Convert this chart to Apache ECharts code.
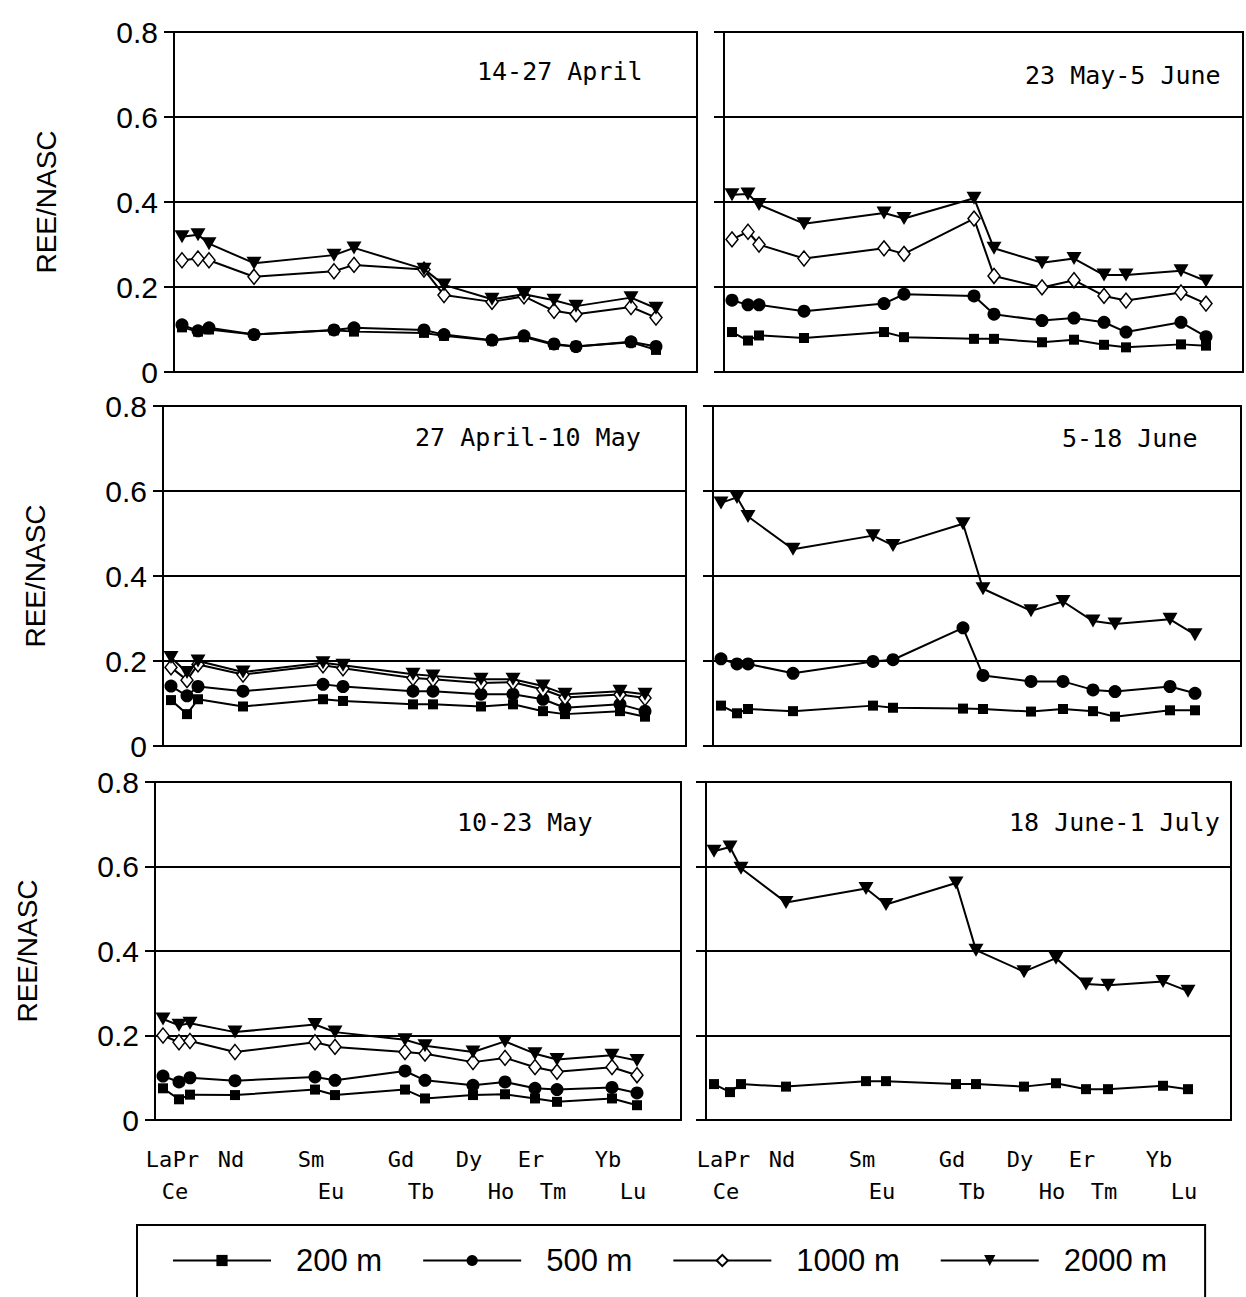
<!DOCTYPE html>
<html>
<head>
<meta charset="utf-8">
<script src="https://cdn.jsdelivr.net/npm/echarts@6/dist/echarts.min.js"></script>
<style>
  html, body { margin: 0; padding: 0; background: #fff; }
  #chart { width: 1246px; height: 1297px; }
</style>
</head>
<body>
<div id="chart"></div>
<script>
// ---------- data ----------
const elements = ['La','Ce','Pr','Nd','Sm','Eu','Gd','Tb','Dy','Ho','Er','Tm','Yb','Lu'];
// x-position of each element along the REE axis (axis units)
const elementPos = [8, 24, 35, 80, 160, 180, 250, 270, 318, 350, 380, 402, 457, 482];
const labelRowTop = ['La','Pr','Nd','Sm','Gd','Dy','Er','Yb'];
const labelRowBottom = ['Ce','Eu','Tb','Ho','Tm','Lu'];
const yTicks = [0, 0.2, 0.4, 0.6, 0.8];
const depths = ['200 m', '500 m', '1000 m', '2000 m'];
const panelTitles = ['14-27 April', '23 May-5 June', '27 April-10 May', '5-18 June', '10-23 May', '18 June-1 July'];
const yName = 'REE/NASC';

// 14-27 April
const apr14_200 = [0.105, 0.095, 0.100, 0.088, 0.098, 0.095, 0.092, 0.085, 0.074, 0.082, 0.064, 0.060, 0.070, 0.052];
const apr14_500 = [0.111, 0.097, 0.104, 0.088, 0.099, 0.104, 0.099, 0.088, 0.075, 0.085, 0.066, 0.060, 0.071, 0.060];
const apr14_1000 = [0.263, 0.267, 0.263, 0.224, 0.237, 0.252, 0.241, 0.181, 0.165, 0.178, 0.144, 0.136, 0.153, 0.128];
const apr14_2000 = [0.318, 0.323, 0.302, 0.256, 0.275, 0.292, 0.242, 0.205, 0.171, 0.183, 0.169, 0.155, 0.175, 0.150];

// 23 May-5 June
const may23_200 = [0.094, 0.074, 0.086, 0.080, 0.094, 0.082, 0.078, 0.078, 0.070, 0.076, 0.064, 0.058, 0.065, 0.062];
const may23_500 = [0.169, 0.158, 0.158, 0.143, 0.161, 0.183, 0.179, 0.136, 0.121, 0.127, 0.117, 0.094, 0.117, 0.083];
const may23_1000 = [0.312, 0.330, 0.300, 0.267, 0.291, 0.278, 0.361, 0.226, 0.199, 0.216, 0.179, 0.168, 0.187, 0.161];
const may23_2000 = [0.417, 0.419, 0.394, 0.349, 0.374, 0.361, 0.409, 0.291, 0.257, 0.267, 0.228, 0.228, 0.238, 0.214];

// 27 April-10 May
const apr27_200 = [0.108, 0.075, 0.110, 0.093, 0.110, 0.106, 0.098, 0.098, 0.093, 0.098, 0.082, 0.075, 0.082, 0.069];
const apr27_500 = [0.141, 0.118, 0.140, 0.129, 0.145, 0.140, 0.129, 0.129, 0.122, 0.122, 0.110, 0.090, 0.098, 0.082];
const apr27_1000 = [0.185, 0.155, 0.192, 0.168, 0.190, 0.183, 0.160, 0.157, 0.148, 0.150, 0.133, 0.114, 0.121, 0.113];
const apr27_2000 = [0.208, 0.173, 0.200, 0.174, 0.196, 0.190, 0.169, 0.165, 0.157, 0.157, 0.141, 0.122, 0.129, 0.122];

// 5-18 June
const jun5_200 = [0.095, 0.077, 0.087, 0.082, 0.095, 0.090, 0.088, 0.087, 0.081, 0.087, 0.082, 0.069, 0.084, 0.084];
const jun5_500 = [0.205, 0.193, 0.193, 0.171, 0.199, 0.203, 0.278, 0.166, 0.152, 0.152, 0.132, 0.128, 0.140, 0.124];
const jun5_2000 = [0.572, 0.585, 0.540, 0.463, 0.495, 0.472, 0.523, 0.370, 0.318, 0.340, 0.294, 0.287, 0.298, 0.262];

// 10-23 May
const may10_200 = [0.075, 0.049, 0.060, 0.059, 0.072, 0.059, 0.072, 0.051, 0.059, 0.061, 0.051, 0.043, 0.051, 0.035];
const may10_500 = [0.104, 0.090, 0.100, 0.093, 0.102, 0.094, 0.116, 0.094, 0.082, 0.090, 0.075, 0.072, 0.077, 0.064];
const may10_1000 = [0.200, 0.184, 0.187, 0.161, 0.184, 0.173, 0.161, 0.157, 0.137, 0.147, 0.125, 0.114, 0.125, 0.106];
const may10_2000 = [0.239, 0.224, 0.229, 0.208, 0.226, 0.208, 0.190, 0.176, 0.161, 0.186, 0.157, 0.143, 0.153, 0.141];

// 18 June-1 July
const jun18_200 = [0.085, 0.066, 0.085, 0.079, 0.092, 0.092, 0.085, 0.085, 0.079, 0.087, 0.073, 0.073, 0.081, 0.073];
const jun18_2000 = [0.636, 0.646, 0.596, 0.515, 0.548, 0.510, 0.561, 0.402, 0.351, 0.383, 0.322, 0.319, 0.328, 0.305];

// panel order: row1 left, row1 right, row2 left, row2 right, row3 left, row3 right
const panelSeries = [
  [apr14_200, apr14_500, apr14_1000, apr14_2000],
  [may23_200, may23_500, may23_1000, may23_2000],
  [apr27_200, apr27_500, apr27_1000, apr27_2000],
  [jun5_200, jun5_500, null, jun5_2000],
  [may10_200, may10_500, may10_1000, may10_2000],
  [jun18_200, null, null, jun18_2000]
];

// ---------- layout / style ----------
const grids = [
  { left: 174, top: 32, width: 523, height: 340 },
  { left: 724, top: 32, width: 519, height: 340 },
  { left: 163, top: 406, width: 523, height: 340 },
  { left: 713, top: 406, width: 528, height: 340 },
  { left: 155, top: 782, width: 526, height: 338 },
  { left: 706, top: 782, width: 525, height: 338 }
];
const titlePos = [[477, 71], [1025, 75], [415, 437], [1062, 438], [457, 822], [1009, 822]];

const symbolStyles = [
  { symbol: 'rect', symbolSize: 10, symbolRotate: 0, itemStyle: { color: '#000' } },
  { symbol: 'circle', symbolSize: 13, symbolRotate: 0, itemStyle: { color: '#000' } },
  { symbol: 'diamond', symbolSize: [12, 15], symbolRotate: 0, itemStyle: { color: '#fff', borderColor: '#000', borderWidth: 1.5 } },
  { symbol: 'triangle', symbolSize: [15, 13], symbolRotate: 180, itemStyle: { color: '#000' } }
];

const labelFont = 'DejaVu Sans Mono';
const axisFont = 'Liberation Sans';

const xAxes = [];
const yAxes = [];
const series = [];

grids.forEach((g, i) => {
  const isBottom = i >= 4;
  const isLeft = i % 2 === 0;
  xAxes.push({
    type: 'value', gridIndex: i, min: 0, max: g.width, position: 'bottom',
    axisLine: { show: true, onZero: false, lineStyle: { color: '#000', width: 2 } },
    axisTick: { show: false },
    splitLine: { show: false },
    axisLabel: isBottom ? {
      show: true,
      customValues: labelRowTop.map(n => elementPos[elements.indexOf(n)]),
      formatter: v => elements[elementPos.indexOf(v)],
      fontFamily: labelFont, fontSize: 22, color: '#000', margin: 28,
      padding: [0, 8, 0, 0]
    } : { show: false }
  });
  yAxes.push({
    type: 'value', gridIndex: i, min: yTicks[0], max: yTicks[yTicks.length - 1], interval: 0.2,
    axisLine: { show: true, lineStyle: { color: '#000', width: 2 } },
    axisTick: { show: true, inside: false, length: 10, lineStyle: { color: '#000', width: 2 } },
    splitLine: { show: true, lineStyle: { color: '#000', width: 2 } },
    axisLabel: isLeft ? {
      show: true, fontFamily: axisFont, fontSize: 30, color: '#000', margin: 16
    } : { show: false },
    name: isLeft ? yName : '',
    nameLocation: 'middle',
    nameGap: 114,
    nameTextStyle: { fontFamily: axisFont, fontSize: 28, color: '#000' }
  });
  panelSeries[i].forEach((vals, d) => {
    if (!vals) return;
    const st = symbolStyles[d];
    series.push({
      type: 'line', name: depths[d], xAxisIndex: i, yAxisIndex: i,
      data: elementPos.map((x, k) => [x, vals[k]]),
      symbol: st.symbol, symbolSize: st.symbolSize, symbolRotate: st.symbolRotate,
      showAllSymbol: true,
      itemStyle: st.itemStyle,
      lineStyle: { color: '#000', width: 2 },
      emphasis: { disabled: true },
      z: 2 + d
    });
  });
});

// second row of element labels on the bottom panels
[4, 5].forEach(i => {
  xAxes.push({
    type: 'value', gridIndex: i, min: 0, max: grids[i].width, position: 'bottom', offset: 32,
    axisLine: { show: false }, axisTick: { show: false }, splitLine: { show: false },
    axisLabel: {
      show: true,
      customValues: labelRowBottom.map(n => elementPos[elements.indexOf(n)]),
      formatter: v => elements[elementPos.indexOf(v)],
      fontFamily: labelFont, fontSize: 22, color: '#000', margin: 28,
      padding: [0, 8, 0, 0]
    }
  });
});

const graphics = panelTitles.map((t, i) => ({
  type: 'text', x: titlePos[i][0], y: titlePos[i][1], z: 10,
  style: { text: t, fill: '#000', fontFamily: labelFont, fontSize: 25, verticalAlign: 'middle', align: 'left' }
}));

const chart = echarts.init(document.getElementById('chart'), null, { renderer: 'svg' });
chart.setOption({
  animation: false,
  backgroundColor: '#fff',
  grid: grids.map(g => Object.assign({ show: true, borderColor: '#000', borderWidth: 2, backgroundColor: 'transparent' }, g)),
  xAxis: xAxes,
  yAxis: yAxes,
  series: series,
  graphic: graphics,
  legend: {
    data: depths,
    left: 137, top: 1225,
    orient: 'horizontal',
    itemWidth: 98, itemHeight: 14, itemGap: 40,
    padding: [20, 38, 60, 35],
    borderColor: '#000', borderWidth: 2,
    selectedMode: false,
    textStyle: { fontFamily: axisFont, fontSize: 31, color: '#000', padding: [0, 0, 0, 20] }
  }
});
</script>
</body>
</html>
